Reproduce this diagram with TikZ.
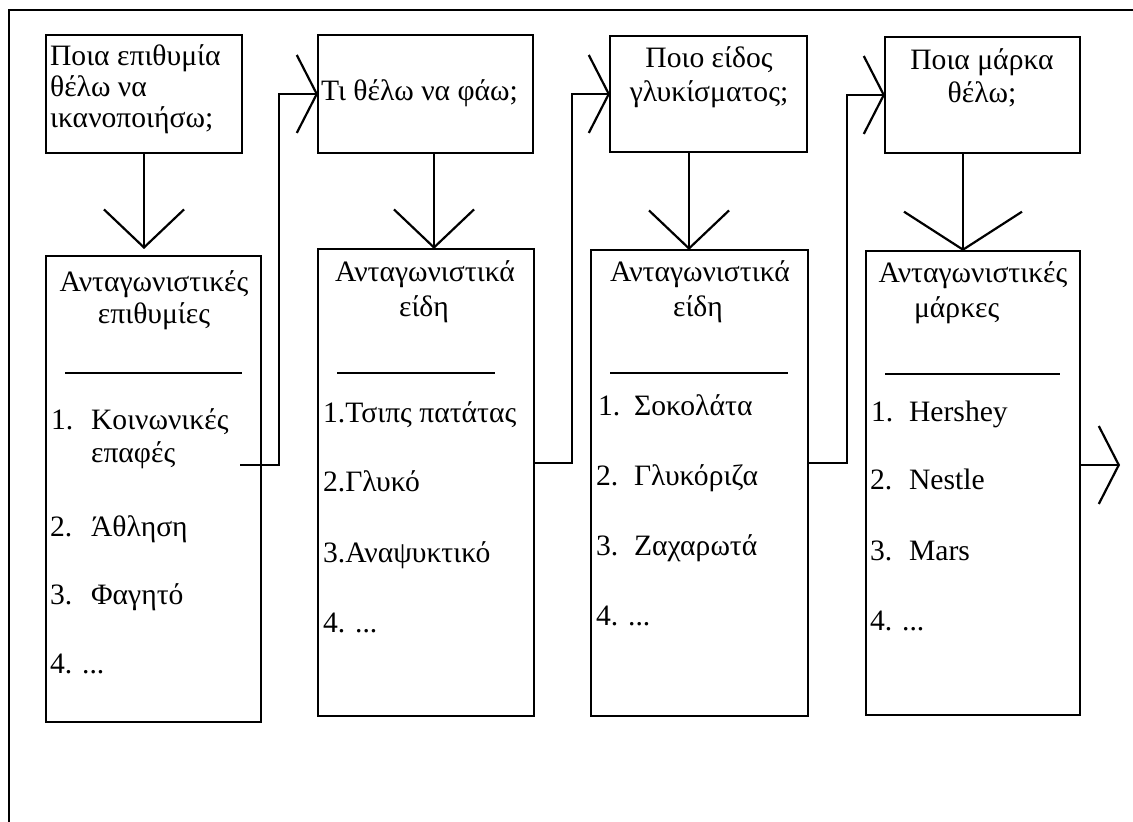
\documentclass[tikz,border=0pt]{standalone}
\usepackage{fontspec}
\setmainfont{Liberation Serif}
\usetikzlibrary{arrows.meta,fit,calc}
\begin{document}
\begin{tikzpicture}[x=0.5pt,y=-0.5pt,line width=1.1pt,
  box/.style={draw,rectangle,inner sep=0pt,outer sep=0pt},
  txt/.style={inner sep=0pt,anchor=base west,font=\fontsize{14.8}{16.5}\selectfont},
  ctxt/.style={txt,anchor=base},
  downtip/.style={-{Straight Barb[length=19pt,width=40pt]}},
  widetip/.style={-{Straight Barb[length=19pt,width=59pt]}},
  sidetip/.style={-{Straight Barb[length=10pt,width=39pt]}}]
\useasboundingbox (0,0) rectangle (1133,822);

% frame
\draw[line width=1.3pt] (9,822) -- (9,10) -- (1133,10);

% question boxes
\node[box,fit={(46,35) (242,153)}] (q1) {};
\node[box,fit={(318,35) (533,153)}] (q2) {};
\node[box,fit={(610,36) (807,152)}] (q3) {};
\node[box,fit={(885,37) (1080,153)}] (q4) {};

% list boxes
\node[box,fit={(46,256) (261,722)}] (l1) {};
\node[box,fit={(318,249) (534,716)}] (l2) {};
\node[box,fit={(591,250) (808,716)}] (l3) {};
\node[box,fit={(866,251) (1080,715)}] (l4) {};

% question texts
\node[txt] (q1a) at (49,66) {Ποια επιθυμία};
\node[txt] (q1b) at (49,97) {θέλω να};
\node[txt] (q1c) at (49,128) {ικανοποιήσω;};
\node[txt] (q2a) at (320,101) {Τι θέλω να φάω;};
\node[ctxt] (q3a) at (709,68) {Ποιο είδος};
\node[ctxt] (q3b) at (709,102) {γλυκίσματος;};
\node[ctxt] (q4a) at (982,70) {Ποια μάρκα};
\node[ctxt] (q4b) at (982,103) {θέλω;};

% list 1
\node[ctxt] (l1t1) at (154,292) {Ανταγωνιστικές};
\node[ctxt] (l1t2) at (154,324) {επιθυμίες};
\draw (65,373) -- (242,373);
\node[txt] (l1n1) at (50,430) {1.};
\node[txt] (l1i1) at (90,430) {Κοινωνικές};
\node[txt] (l1i1b) at (90,463) {επαφές};
\node[txt] (l1n2) at (49,537) {2.};
\node[txt] (l1i2) at (90,537) {Άθληση};
\node[txt] (l1n3) at (49,604) {3.};
\node[txt] (l1i3) at (90,604) {Φαγητό};
\node[txt] (l1n4) at (49,673) {4. ...};

% list 2
\node[ctxt] (l2t1) at (425,282) {Ανταγωνιστικά};
\node[ctxt] (l2t2) at (424,317) {είδη};
\draw (337,373) -- (495,373);
\node[txt] (l2i1) at (322,423) {1.Τσιπς πατάτας};
\node[txt] (l2i2) at (322,492) {2.Γλυκό};
\node[txt] (l2i3) at (322,562) {3.Αναψυκτικό};
\node[txt] (l2i4) at (322,632) {4. ...};

% list 3
\node[ctxt] (l3t1) at (700,282) {Ανταγωνιστικά};
\node[ctxt] (l3t2) at (698,317) {είδη};
\draw (610,373) -- (788,373);
\node[txt] (l3n1) at (597,416) {1.};
\node[txt] (l3i1) at (633,416) {Σοκολάτα};
\node[txt] (l3n2) at (595,486) {2.};
\node[txt] (l3i2) at (633,486) {Γλυκόριζα};
\node[txt] (l3n3) at (595,555) {3.};
\node[txt] (l3i3) at (633,555) {Ζαχαρωτά};
\node[txt] (l3n4) at (595,625) {4. ...};

% list 4
\node[ctxt] (l4t1) at (973,283) {Ανταγωνιστικές};
\node[txt] (l4t2) at (913,318) {μάρκες};
\draw (885,374) -- (1060,374);
\node[txt] (l4n1) at (870,422) {1.};
\node[txt] (l4i1) at (908,422) {Hershey};
\node[txt] (l4n2) at (869,490) {2.};
\node[txt] (l4i2) at (908,490) {Nestle};
\node[txt] (l4n3) at (869,560) {3.};
\node[txt] (l4i3) at (908,560) {Mars};
\node[txt] (l4n4) at (869,630) {4. ...};

% downward arrows
\coordinate (a2) at ($(q2.south)+(8.5,0)$);
\coordinate (a3) at ($(q3.south)+(-19.5,0)$);
\coordinate (a4) at ($(q4.south)+(-19.5,0)$);
\draw[downtip,shorten >=3.5pt] (q1.south) -- (q1.south |- l1.north);
\draw[downtip] (a2) -- (a2 |- l2.north);
\draw[downtip] (a3) -- (a3 |- l3.north);
\draw[widetip] (a4) -- (a4 |- l4.north);

% links from a list to the next question
\coordinate (s1) at (240,465);
\coordinate (s2) at (534,463);
\coordinate (s3) at (808,463);
\coordinate (s4) at (1080,465);
\coordinate (out) at (1120,465);
\draw[sidetip] (s1) -- ++(39,0) |- (q2.west);
\draw[sidetip] (s2) -- ++(38,0) |- (q3.west);
\draw[sidetip] (s3) -- ++(39,0) |- (q4.west);
\draw[sidetip] (s4) -- (out);
\end{tikzpicture}
\end{document}
